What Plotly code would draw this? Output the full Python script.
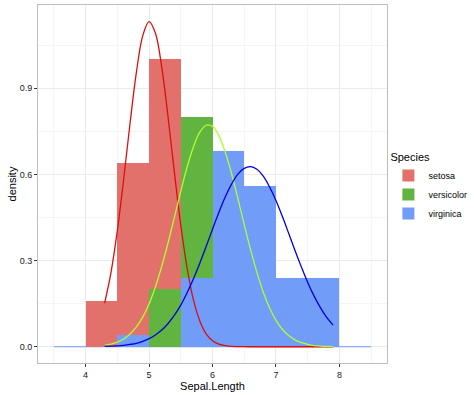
import plotly.graph_objects as go

# ---- data ----
bin_edges = [3.5, 4.0, 4.5, 5.0, 5.5, 6.0, 6.5, 7.0, 7.5, 8.0, 8.5]
species = ["setosa", "versicolor", "virginica"]
setosa_density = [0, 0.16, 0.64, 1.0, 0.2, 0, 0, 0, 0, 0]
versicolor_density = [0, 0, 0.04, 0.2, 0.8, 0.6, 0.32, 0.04, 0, 0]
virginica_density = [0, 0, 0.04, 0, 0.24, 0.68, 0.56, 0.24, 0.24, 0]

curve_x = [4.3, 4.4, 4.5, 4.6, 4.7, 4.8, 4.9, 5.0, 5.1, 5.2, 5.3, 5.4, 5.5, 5.6,
           5.7, 5.8, 5.9, 6.0, 6.1, 6.2, 6.3, 6.4, 6.5, 6.6, 6.7, 6.8, 6.9, 7.0,
           7.1, 7.2, 7.3, 7.4, 7.5, 7.6, 7.7, 7.8, 7.9]
setosa_curve = [0.152, 0.258, 0.404, 0.583, 0.777, 0.954, 1.082, 1.132, 1.092, 0.973,
                0.799, 0.606, 0.424, 0.274, 0.163, 0.090, 0.045, 0.021, 0.009, 0.004,
                0.001, 0.0005, 0.0001, 0, 0, 0, 0, 0, 0, 0, 0, 0, 0, 0, 0, 0, 0]
versicolor_curve = [0.005, 0.009, 0.016, 0.027, 0.044, 0.069, 0.103, 0.149, 0.208, 0.280,
                    0.362, 0.451, 0.541, 0.625, 0.696, 0.747, 0.771, 0.767, 0.735, 0.678,
                    0.603, 0.516, 0.425, 0.338, 0.259, 0.190, 0.135, 0.092, 0.061, 0.039,
                    0.024, 0.014, 0.008, 0.004, 0.002, 0.001, 0.0006]
virginica_curve = [0.001, 0.002, 0.003, 0.005, 0.008, 0.012, 0.019, 0.028, 0.041, 0.058,
                   0.081, 0.110, 0.145, 0.188, 0.237, 0.291, 0.349, 0.409, 0.467, 0.521,
                   0.566, 0.601, 0.621, 0.627, 0.618, 0.594, 0.556, 0.509, 0.454, 0.395,
                   0.335, 0.278, 0.224, 0.177, 0.136, 0.102, 0.075]

y_ticks = [0.0, 0.3, 0.6, 0.9]
y_tick_labels = ["0.0", "0.3", "0.6", "0.9"]
x_ticks = [4, 5, 6, 7, 8]

bar_colors = ["#E2716B", "#62B441", "#719CF8"]
line_colors = ["#DD0E0E", "#ADFF2F", "#0000DD"]

# ---- figure ----
fig = go.Figure()
lefts = bin_edges[:-1]
widths = [b - a for a, b in zip(bin_edges[:-1], bin_edges[1:])]
for name, dens, col in zip(species, [setosa_density, versicolor_density, virginica_density], bar_colors):
    fig.add_trace(go.Bar(x=lefts, y=dens, width=widths, offset=0, name=name,
                         marker=dict(color=col, line=dict(width=0)), showlegend=True))

for name, cy, col in zip(species, [setosa_curve, versicolor_curve, virginica_curve], line_colors):
    fig.add_trace(go.Scatter(x=curve_x, y=cy, mode="lines", line=dict(color=col, width=1.3, shape="spline"),
                             showlegend=False, hoverinfo="skip"))

# zero-height bins of the last drawn group show as a thin baseline
fig.add_shape(type="line", xref="x", yref="y", x0=bin_edges[0], x1=bin_edges[-1], y0=0, y1=0,
              line=dict(color=bar_colors[2], width=1.2), layer="between")

font_family = "Liberation Sans, Arial, sans-serif"
fig.update_layout(
    width=474, height=395,
    margin=dict(l=38, r=87, t=5, b=32, autoexpand=False),
    paper_bgcolor="white", plot_bgcolor="white",
    barmode="overlay", bargap=0,
    font=dict(family=font_family, color="#000000"),
    legend=dict(title=dict(text="Species", font=dict(size=11, color="#000")),
                font=dict(size=9, color="#000"), x=1.004, xanchor="left", y=0.49, yanchor="middle",
                itemwidth=30, tracegroupgap=0, bgcolor="rgba(0,0,0,0)"),
)
fig.update_xaxes(range=[3.25, 8.75], tickvals=x_ticks, ticks="outside", ticklen=3, tickcolor="#333333",
                 tickfont=dict(size=9, color="#1a1a1a"), showgrid=True, gridcolor="#EBEBEB", gridwidth=1,
                 minor=dict(dtick=0.5, tick0=3.5, showgrid=True, gridcolor="#F5F5F5", gridwidth=0.5),
                 zeroline=False, showline=True, linecolor="#BDBDBD", linewidth=1, mirror=True,
                 title=dict(text="Sepal.Length", font=dict(size=11, color="#000"), standoff=0))
fig.update_yaxes(range=[-0.0566, 1.1896], tickvals=y_ticks, ticktext=y_tick_labels, ticks="outside", ticklen=3,
                 tickcolor="#333333", tickfont=dict(size=9, color="#1a1a1a"), showgrid=True, gridcolor="#EBEBEB",
                 gridwidth=1, minor=dict(dtick=0.15, tick0=0.15, showgrid=True, gridcolor="#F5F5F5", gridwidth=0.5),
                 zeroline=False, showline=True, linecolor="#BDBDBD", linewidth=1, mirror=True,
                 title=dict(text="density", font=dict(size=11, color="#000"), standoff=0))

fig.write_html("out.html", config={"displayModeBar": False},
               post_script="document.body.style.margin='0';document.body.style.overflow='hidden';")
